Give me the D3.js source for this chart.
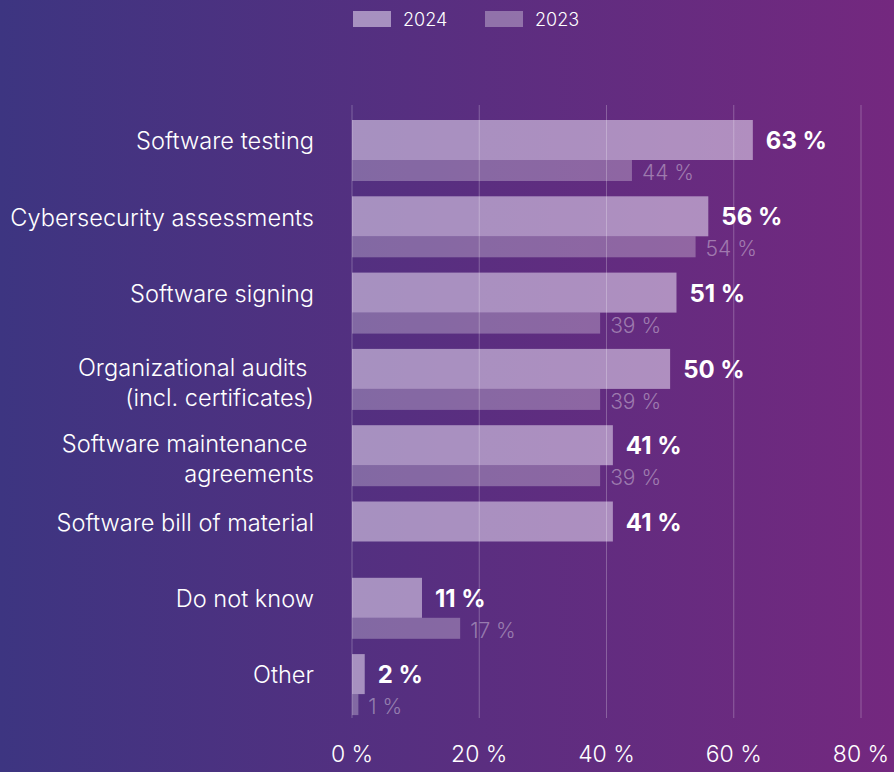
<!DOCTYPE html>
<html>
<head>
<meta charset="utf-8">
<script src="https://cdn.jsdelivr.net/npm/d3@7"></script>
<style>
  html, body { margin: 0; padding: 0; }
  body { width: 894px; height: 772px; overflow: hidden; }
  text { font-family: Inter, "Noto Sans", sans-serif; }
</style>
</head>
<body>
<div id="chart"></div>
<script>
// data
var categories = [
  ["Software testing"],
  ["Cybersecurity assessments"],
  ["Software signing"],
  ["Organizational audits ", "(incl. certificates)"],
  ["Software maintenance ", "agreements"],
  ["Software bill of material"],
  ["Do not know"],
  ["Other"]
];
var values2024 = [63, 56, 51, 50, 41, 41, 11, 2];
var values2023 = [44, 54, 39, 39, 39, null, 17, 1];
var seriesNames = ["2024", "2023"];
var xTicks = [0, 20, 40, 60, 80];

var w = 894, h = 772;

var svg = d3.select("#chart").append("svg")
  .attr("width", w)
  .attr("height", h);

// background gradient
var grad = svg.append("defs").append("linearGradient")
  .attr("id", "bg")
  .attr("x1", "0%").attr("x2", "100%")
  .attr("y1", "0%").attr("y2", "0%");
grad.append("stop").attr("offset", "0%").attr("stop-color", "#3d3581");
grad.append("stop").attr("offset", "100%").attr("stop-color", "#74287f");
svg.append("rect").attr("width", w).attr("height", h).attr("fill", "url(#bg)");

var x = d3.scaleLinear().domain([0, 80]).range([352, 861]);
var y = d3.scaleBand()
  .domain(d3.range(categories.length))
  .range([120, 120 + 76.3 * categories.length])
  .paddingInner(0);

var barH = 40, barH2 = 21;

// keep the index with each 2023 value, some are missing
var data2023 = values2023
  .map(function(v, i) { return { v: v, i: i }; })
  .filter(function(d) { return d.v != null; });

var col2024 = "#e4d8ee", op2024 = 0.58;
var col2023 = "#ffffff", op2023 = 0.28;

// bars 2023
svg.append("g").selectAll("rect")
  .data(data2023)
  .join("rect")
  .attr("x", x(0))
  .attr("y", function(d) { return y(d.i) + barH; })
  .attr("width", function(d) { return x(d.v) - x(0); })
  .attr("height", barH2)
  .attr("fill", col2023)
  .attr("fill-opacity", op2023);

// bars 2024
svg.append("g").selectAll("rect")
  .data(values2024)
  .join("rect")
  .attr("x", x(0))
  .attr("y", function(d, i) { return y(i); })
  .attr("width", function(d) { return x(d) - x(0); })
  .attr("height", barH)
  .attr("fill", col2024)
  .attr("fill-opacity", op2024);

// grid lines on top
svg.append("g").selectAll("line")
  .data(xTicks)
  .join("line")
  .attr("x1", function(d) { return x(d); })
  .attr("x2", function(d) { return x(d); })
  .attr("y1", 105)
  .attr("y2", 718)
  .attr("stroke", "#ffffff")
  .attr("stroke-opacity", 0.25)
  .attr("stroke-width", 1);

// x axis labels
svg.append("g").selectAll("text")
  .data(xTicks)
  .join("text")
  .attr("x", function(d) { return x(d); })
  .attr("y", 762)
  .attr("text-anchor", "middle")
  .attr("fill", "#ffffff")
  .attr("font-size", 23)
  .attr("font-weight", 300)
  .text(function(d) { return d + " %"; });

// value labels 2024
svg.append("g").selectAll("text")
  .data(values2024)
  .join("text")
  .attr("x", function(d) { return x(d) + 13; })
  .attr("y", function(d, i) { return y(i) + 29; })
  .attr("fill", "#ffffff")
  .attr("font-size", 24)
  .attr("font-weight", 700)
  .text(function(d) { return d + " %"; });

// value labels 2023
svg.append("g").selectAll("text")
  .data(data2023)
  .join("text")
  .attr("x", function(d) { return x(d.v) + 10; })
  .attr("y", function(d) { return y(d.i) + 60; })
  .attr("fill", "#ffffff")
  .attr("fill-opacity", 0.38)
  .attr("font-size", 21)
  .attr("font-weight", 300)
  .text(function(d) { return d.v + " %"; });

// category labels
var cat = svg.append("g").selectAll("text")
  .data(categories)
  .join("text")
  .attr("text-anchor", "end")
  .attr("fill", "#ffffff")
  .attr("font-size", 23.6)
  .attr("font-weight", 300)
  .attr("transform", function(d, i) {
    var top = d.length > 1 ? 19 : 21;
    return "translate(314," + (y(i) + top) + ")";
  });
cat.selectAll("tspan")
  .data(function(d) { return d; })
  .join("tspan")
  .attr("x", 0)
  .attr("y", function(d, j) { return j * 29.5; })
  .attr("dy", "0.35em")
  .style("white-space", "pre")
  .text(function(d) { return d; });

// legend
var legend = svg.append("g").selectAll("g")
  .data(seriesNames)
  .join("g")
  .attr("transform", function(d, i) { return "translate(" + (353 + i * 132) + ",11)"; });
legend.append("rect")
  .attr("width", 38)
  .attr("height", 16)
  .attr("fill", function(d, i) { return i === 0 ? col2024 : col2023; })
  .attr("fill-opacity", function(d, i) { return i === 0 ? op2024 : op2023 + 0.05; });
legend.append("text")
  .attr("x", 50)
  .attr("y", 15)
  .attr("fill", "#ffffff")
  .attr("font-size", 18)
  .attr("font-weight", 300)
  .text(function(d) { return d; });
</script>
</body>
</html>
